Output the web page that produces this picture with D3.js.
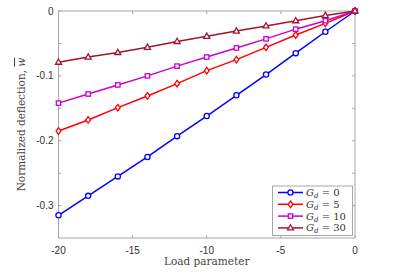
<!DOCTYPE html>
<html>
<head>
<meta charset="utf-8">
<script src="https://cdn.jsdelivr.net/npm/d3@7"></script>
<style>
  body { margin: 0; background: #fff; }
  svg { display: block; }
</style>
</head>
<body>
<svg id="chart"></svg>
<script>
// load parameter values (x)
var loads = [-20, -18, -16, -14, -12, -10, -8, -6, -4, -2, 0];

// normalized deflection, one array per G_d
var gd0  = [-0.315, -0.285, -0.255, -0.225, -0.193, -0.162, -0.130, -0.098, -0.065, -0.032, 0];
var gd5  = [-0.185, -0.168, -0.149, -0.131, -0.112, -0.092, -0.075, -0.056, -0.037, -0.019, 0];
var gd10 = [-0.142, -0.128, -0.114, -0.100, -0.085, -0.071, -0.057, -0.043, -0.028, -0.015, 0];
var gd30 = [-0.079, -0.071, -0.064, -0.056, -0.047, -0.039, -0.031, -0.023, -0.015, -0.007, 0];

var seriesNames = ["0", "5", "10", "30"];
var seriesColors = ["#0000ff", "#ff0000", "#cc00cc", "#a2142f"];
var seriesMarkers = ["circle", "diamond", "square", "triangle"];

var xTicks = [-20, -15, -10, -5, 0];
var yTicks = [0, -0.05, -0.1, -0.15, -0.2, -0.25, -0.3];
var yLabelled = [0, -0.1, -0.2, -0.3];

var W = 400, H = 278;
var m = { left: 58.5, right: 45, top: 11, bottom: 40 };

var svg = d3.select("#chart").attr("width", W).attr("height", H);

var x = d3.scaleLinear().domain([-20, 0]).range([m.left, W - m.right]);
var y = d3.scaleLinear().domain([-0.35, 0]).range([H - m.bottom, m.top]);

var axisColor = "#a6a6a6";
var textColor = "#333";

// box
svg.append("rect")
  .attr("x", x(-20)).attr("y", y(0))
  .attr("width", x(0) - x(-20)).attr("height", y(-0.35) - y(0))
  .attr("fill", "none").attr("stroke", axisColor).attr("stroke-width", 1);

// inward ticks on all four sides
var tk = 3;
xTicks.forEach(function(t) {
  svg.append("line").attr("x1", x(t)).attr("x2", x(t))
    .attr("y1", y(-0.35)).attr("y2", y(-0.35) - tk)
    .attr("stroke", axisColor);
  svg.append("line").attr("x1", x(t)).attr("x2", x(t))
    .attr("y1", y(0)).attr("y2", y(0) + tk)
    .attr("stroke", axisColor);
  svg.append("text").attr("x", x(t)).attr("y", y(-0.35) + 16)
    .attr("text-anchor", "middle")
    .attr("font-family", "Liberation Sans, Arial, sans-serif")
    .attr("font-size", 10).attr("fill", textColor)
    .text(t);
});
yTicks.forEach(function(t) {
  svg.append("line").attr("x1", x(-20)).attr("x2", x(-20) + tk)
    .attr("y1", y(t)).attr("y2", y(t))
    .attr("stroke", axisColor);
  svg.append("line").attr("x1", x(0)).attr("x2", x(0) - tk)
    .attr("y1", y(t)).attr("y2", y(t))
    .attr("stroke", axisColor);
});
yLabelled.forEach(function(t) {
  svg.append("text").attr("x", x(-20) - 5).attr("y", y(t) + 3.5)
    .attr("text-anchor", "end")
    .attr("font-family", "Liberation Sans, Arial, sans-serif")
    .attr("font-size", 10).attr("fill", textColor)
    .text(t === 0 ? "0" : String(t));
});

// axis labels
svg.append("text")
  .attr("x", (x(-20) + x(0)) / 2).attr("y", 265)
  .attr("text-anchor", "middle")
  .attr("font-family", "DejaVu Serif, Liberation Serif, serif")
  .attr("font-size", 10.5).attr("fill", "#444")
  .text("Load parameter");

var yl = svg.append("text")
  .attr("transform", "translate(25," + ((y(0) + y(-0.35)) / 2) + ") rotate(-90)")
  .attr("text-anchor", "middle")
  .attr("font-family", "DejaVu Serif, Liberation Serif, serif")
  .attr("font-size", 10.5).attr("fill", "#444");
yl.append("tspan").text("Normalized deflection, ");
yl.append("tspan").attr("font-style", "italic")
  .attr("text-decoration", "overline").text("w");

// markers
function drawMarker(g, kind, cx, cy, color) {
  if (kind === "circle") {
    g.append("circle").attr("cx", cx).attr("cy", cy).attr("r", 2.6)
      .attr("fill", "#fff").attr("stroke", color).attr("stroke-width", 1.3);
  } else if (kind === "diamond") {
    g.append("path")
      .attr("d", "M" + cx + "," + (cy - 3.3) + "L" + (cx + 2.4) + "," + cy +
        "L" + cx + "," + (cy + 3.3) + "L" + (cx - 2.4) + "," + cy + "Z")
      .attr("fill", "#fff").attr("stroke", color).attr("stroke-width", 1.3);
  } else if (kind === "square") {
    g.append("rect").attr("x", cx - 2.2).attr("y", cy - 2.2)
      .attr("width", 4.4).attr("height", 4.4)
      .attr("fill", "#fff").attr("stroke", color).attr("stroke-width", 1.3);
  } else {
    g.append("path")
      .attr("d", "M" + cx + "," + (cy - 3.2) + "L" + (cx + 3) + "," + (cy + 2) +
        "L" + (cx - 3) + "," + (cy + 2) + "Z")
      .attr("fill", "#fff").attr("stroke", color).attr("stroke-width", 1.3);
  }
}

var allSeries = [gd0, gd5, gd10, gd30];
var line = d3.line()
  .x(function(d, i) { return x(loads[i]); })
  .y(function(d) { return y(d); });

allSeries.forEach(function(vals, s) {
  var g = svg.append("g");
  g.append("path").datum(vals).attr("d", line)
    .attr("fill", "none").attr("stroke", seriesColors[s]).attr("stroke-width", 1.5);
  vals.forEach(function(v, i) {
    drawMarker(g, seriesMarkers[s], x(loads[i]), y(v), seriesColors[s]);
  });
});

// legend
var lg = svg.append("g");
lg.append("rect").attr("x", 272.5).attr("y", 186)
  .attr("width", 80).attr("height", 49.5)
  .attr("fill", "#fff").attr("stroke", axisColor).attr("stroke-width", 1);
seriesNames.forEach(function(name, s) {
  var ry = 192.5 + s * 11.8;
  lg.append("line").attr("x1", 278).attr("x2", 303)
    .attr("y1", ry).attr("y2", ry)
    .attr("stroke", seriesColors[s]).attr("stroke-width", 1.5);
  drawMarker(lg, seriesMarkers[s], 290.5, ry, seriesColors[s]);
  var t = lg.append("text").attr("x", 306).attr("y", ry + 3.5)
    .attr("font-family", "DejaVu Serif, Liberation Serif, serif")
    .attr("font-size", 10).attr("fill", "#333");
  t.append("tspan").attr("font-style", "italic").text("G");
  t.append("tspan").attr("font-style", "italic").attr("font-size", 7)
    .attr("dy", 2).text("d");
  t.append("tspan").attr("dy", -2).text(" = " + name);
});
</script>
</body>
</html>
